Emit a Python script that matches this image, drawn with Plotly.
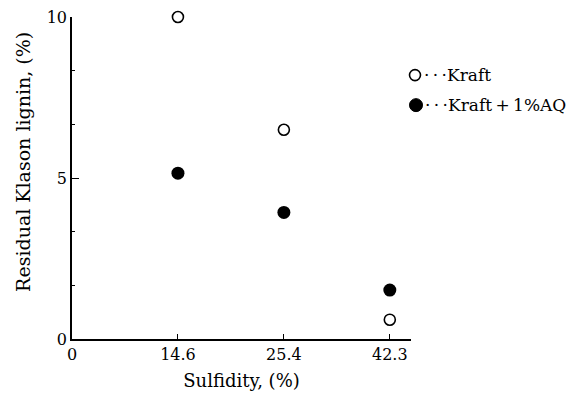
import plotly.graph_objects as go

sulfidity_labels = ["0", "14.6", "25.4", "42.3"]
sulfidity_pos = [1, 2, 3]  # category index of each measured sulfidity
kraft = [10.0, 6.5, 0.6]
kraft_aq = [5.15, 3.93, 1.52]

FONT = "DejaVu Serif"

fig = go.Figure()
fig.add_trace(go.Scatter(
    x=sulfidity_pos, y=kraft, mode="markers", name="Kraft",
    marker=dict(symbol="circle-open", size=11, color="black", line=dict(width=1.6)),
    cliponaxis=False, showlegend=False))
fig.add_trace(go.Scatter(
    x=sulfidity_pos, y=kraft_aq, mode="markers", name="Kraft+1%AQ",
    marker=dict(symbol="circle", size=13, color="black"),
    cliponaxis=False, showlegend=False))

fig.update_layout(
    width=576, height=399,
    margin=dict(l=72, r=165, t=17, b=60),
    paper_bgcolor="white", plot_bgcolor="white",
    font=dict(family=FONT, size=16, color="black"),
    xaxis=dict(range=[0, 3.2], tickvals=[0, 1, 2, 3], ticktext=sulfidity_labels,
               ticks="inside", ticklen=5, tickwidth=1.3, tickcolor="black",
               showline=True, linecolor="black", linewidth=1.5,
               showgrid=False, zeroline=False, automargin=False,
               tickfont=dict(family=FONT, size=16),
               title=dict(text="Sulfidity, (%)", standoff=11,
                          font=dict(family=FONT, size=18))),
    yaxis=dict(range=[0, 10], tickvals=[0, 5, 10], ticktext=["0", "5", "10"],
               ticks="inside", ticklen=7, tickwidth=1.3, tickcolor="black",
               minor=dict(dtick=10/6, tick0=0, ticks="inside", ticklen=3,
                          tickwidth=1, tickcolor="black"),
               showline=True, linecolor="black", linewidth=1.5,
               showgrid=False, zeroline=False, automargin=False,
               tickfont=dict(family=FONT, size=16)),
)

fig.add_annotation(text="Residual Klason lignin, (%)", textangle=-90,
                   xref="paper", yref="paper", x=0, y=0.55, xanchor="center",
                   yanchor="middle", xshift=-49, showarrow=False,
                   font=dict(family=FONT, size=19))

# legend (drawn manually to match compact layout)
def px(xp):
    return 1.0 + (xp - 411) / 339

def py(yp):
    return (338.5 - yp) / 321.5

fig.add_shape(type="circle", xref="paper", yref="paper",
              xsizemode="pixel", ysizemode="pixel",
              xanchor=px(415), yanchor=py(75),
              x0=-5.5, x1=5.5, y0=-5.5, y1=5.5,
              line=dict(color="black", width=1.6))
fig.add_shape(type="circle", xref="paper", yref="paper",
              xsizemode="pixel", ysizemode="pixel",
              xanchor=px(416), yanchor=py(105),
              x0=-6.5, x1=6.5, y0=-6.5, y1=6.5,
              fillcolor="black", line=dict(color="black", width=1))
fig.add_annotation(text="·\u2009·\u2009·Kraft", xref="paper", yref="paper",
                   x=px(422), y=py(75),
                   xanchor="left", yanchor="middle", showarrow=False,
                   font=dict(family=FONT, size=17))
fig.add_annotation(text="·\u2009·\u2009·Kraft\u2009+\u20091%AQ", xref="paper", yref="paper",
                   x=px(423), y=py(105),
                   xanchor="left", yanchor="middle", showarrow=False,
                   font=dict(family=FONT, size=17))

fig.write_html("out.html", config={"displayModeBar": False},
               post_script="document.body.style.margin='0';")
